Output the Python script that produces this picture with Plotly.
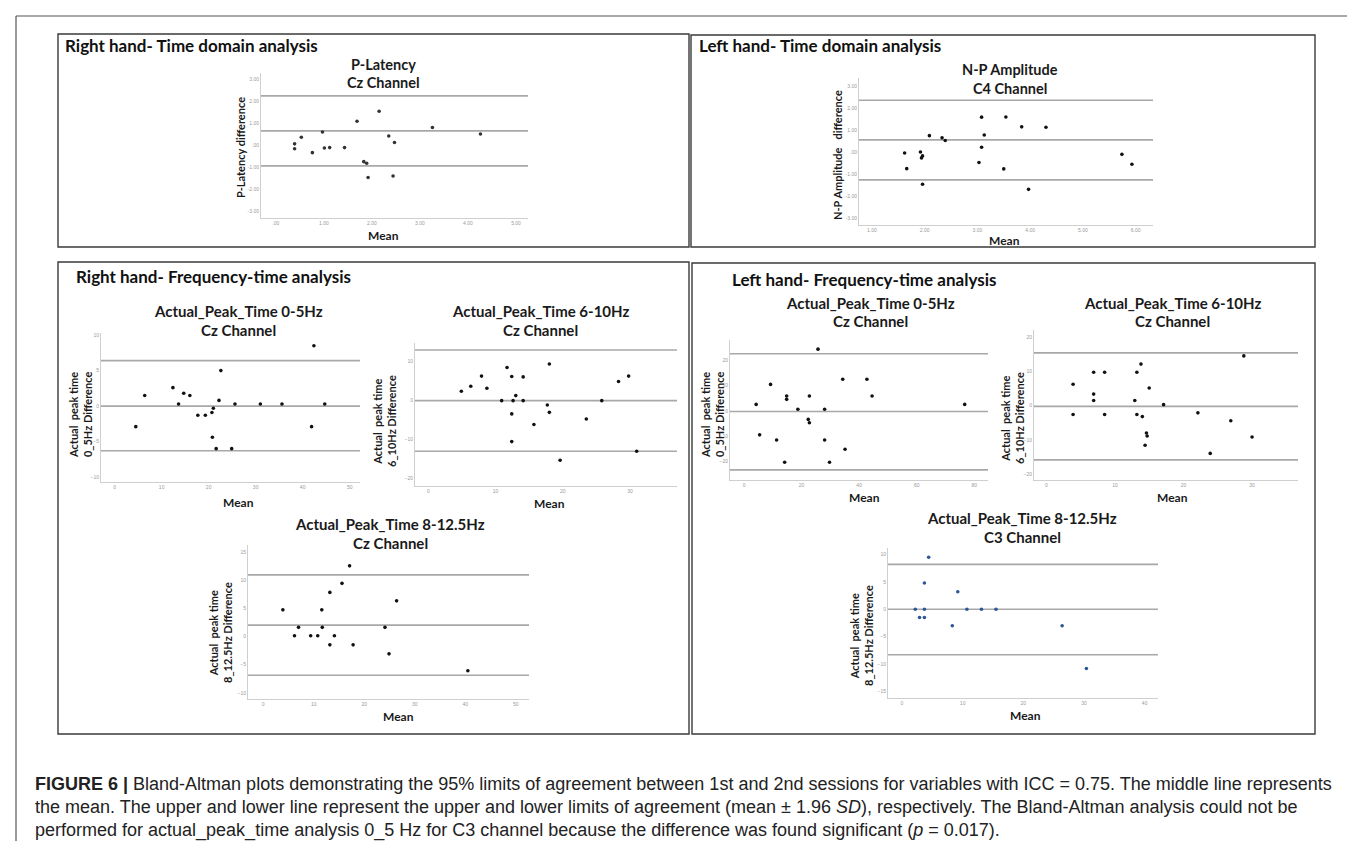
import plotly.graph_objects as go

W, H = 1355, 841

# ---------------- data ----------------
# Right hand - time domain: P-Latency, Cz
rh_plat_mean = [0.39, 0.39, 0.53, 0.76, 0.97, 1.01, 1.12, 1.43, 1.69, 1.83, 1.89, 1.92, 2.15, 2.35, 2.44, 2.47, 3.26, 4.26]
rh_plat_diff = [0.05, -0.17, 0.35, -0.35, 0.59, -0.14, -0.12, -0.12, 1.08, -0.76, -0.83, -1.48, 1.53, 0.41, -1.41, 0.11, 0.79, 0.50]
rh_plat_loa = [2.23, 0.64, -0.95]

# Left hand - time domain: N-P Amplitude, C4
lh_npamp_mean = [1.62, 1.66, 1.92, 1.94, 1.96, 1.96, 2.09, 2.33, 2.39, 3.03, 3.08, 3.08, 3.13, 3.54, 3.50, 3.84, 3.97, 4.30, 5.74, 5.93]
lh_npamp_diff = [-0.05, -0.76, 0.00, -0.27, -0.18, -1.47, 0.74, 0.64, 0.52, -0.48, 1.58, 0.21, 0.77, 1.59, -0.77, 1.14, -1.70, 1.12, -0.11, -0.56]
lh_npamp_loa = [2.35, 0.55, -1.27]

# Right hand - frequency-time: 0-5Hz Cz
rh_05_mean = [4.5, 6.4, 12.4, 13.6, 14.7, 16.0, 17.7, 19.3, 20.7, 21.0, 20.8, 21.6, 22.2, 22.6, 24.9, 25.6, 31.0, 35.6, 41.9, 42.4, 44.7]
rh_05_diff = [-2.9, 1.5, 2.6, 0.3, 1.8, 1.5, -1.3, -1.3, -0.9, -0.3, -4.4, -6.0, 0.8, 5.0, -6.0, 0.3, 0.3, 0.3, -2.9, 8.5, 0.3]
rh_05_loa = [6.4, 0.0, -6.3]

# Right hand - frequency-time: 6-10Hz Cz
rh_610_mean = [4.9, 6.3, 7.9, 8.7, 10.9, 11.7, 12.4, 12.4, 12.4, 12.6, 13.0, 14.1, 14.1, 15.7, 17.7, 18.0, 18.0, 19.6, 23.5, 25.8, 28.3, 29.8, 31.0]
rh_610_diff = [2.4, 3.7, 6.3, 3.2, 0.0, 8.5, 6.2, -3.4, -10.5, 0.0, 1.3, 6.1, 0.0, -6.1, -1.1, 9.4, -3.0, -15.3, -4.7, 0.0, 4.9, 6.3, -13.0]
rh_610_loa = [13.0, 0.0, -13.0]

# Right hand - frequency-time: 8-12.5Hz Cz
rh_812_mean = [3.9, 6.2, 7.0, 9.4, 10.8, 11.6, 11.7, 13.2, 13.2, 14.1, 15.6, 17.1, 17.8, 24.1, 24.9, 26.4, 40.5]
rh_812_diff = [4.7, 0.1, 1.6, 0.1, 0.1, 4.7, 1.6, 7.8, -1.5, 0.1, 9.4, 12.5, -1.5, 1.6, -3.1, 6.3, -6.1]
rh_812_loa = [10.9, 2.0, -6.9]

# Left hand - frequency-time: 0-5Hz Cz
lh_05_mean = [4.2, 5.4, 9.2, 11.3, 14.1, 14.8, 14.8, 18.7, 22.3, 22.7, 22.7, 25.7, 28.0, 28.0, 29.7, 34.3, 35.1, 42.7, 44.5, 76.7]
lh_05_diff = [2.6, -9.4, 10.5, -11.4, -20.2, 5.9, 4.6, 0.7, -3.3, -4.6, 5.9, 24.4, 0.7, -11.4, -20.2, 12.5, -15.1, 12.5, 5.9, 2.6]
lh_05_loa = [22.6, -0.2, -23.2]

# Left hand - frequency-time: 6-10Hz Cz
lh_610_mean = [3.9, 3.9, 6.9, 6.9, 6.9, 8.5, 8.5, 13.2, 12.9, 13.2, 13.8, 14.0, 14.6, 14.7, 14.4, 15.0, 17.1, 22.1, 23.9, 26.9, 28.8, 30.0]
lh_610_diff = [6.3, -2.6, 9.8, 3.4, 1.5, 9.8, -2.6, 9.8, 1.5, -2.6, 12.2, -3.2, -8.0, -8.9, -11.6, 5.2, 0.3, -2.1, -14.0, -4.4, 14.6, -9.2]
lh_610_loa = [15.5, -0.2, -15.9]

# Left hand - frequency-time: 8-12.5Hz C3
lh_812_mean = [2.2, 2.9, 3.7, 3.7, 3.7, 4.4, 8.3, 9.2, 10.7, 13.1, 15.5, 26.4, 30.4]
lh_812_diff = [0.0, -1.5, -1.5, 0.0, 4.8, 9.5, -3.0, 3.2, 0.0, 0.0, 0.0, -3.0, -10.8]
lh_812_loa = [8.2, 0.0, -8.3]

# tick values / labels
tick_time_y = [-3, -2, -1, 0, 1, 2, 3]
tick_time_y_lab = ["-3.00", "-2.00", "-1.00", ".00", "1.00", "2.00", "3.00"]
tick_plat_x = [0, 1, 2, 3, 4, 5]
tick_plat_x_lab = [".00", "1.00", "2.00", "3.00", "4.00", "5.00"]
tick_npamp_x = [1, 2, 3, 4, 5, 6]
tick_npamp_x_lab = ["1.00", "2.00", "3.00", "4.00", "5.00", "6.00"]
tick_x_0_50 = [0, 10, 20, 30, 40, 50]
tick_x_0_30 = [0, 10, 20, 30]
tick_x_0_40 = [0, 10, 20, 30, 40]
tick_x_0_80 = [0, 20, 40, 60, 80]
tick_y_rh05 = [-10, -5, 0, 5, 10]
tick_y_rh610 = [-20, -10, 0, 10]
tick_y_rh812 = [-10, -5, 0, 5, 10, 15]
tick_y_lh05 = [-20, -10, 0, 10, 20]
tick_y_lh610 = [-20, -10, 0, 10, 20]
tick_y_lh812 = [-15, -10, -5, 0, 5, 10]

section_titles = ["Right hand- Time domain analysis", "Left hand- Time domain analysis",
                  "Right hand- Frequency-time analysis", "Left hand- Frequency-time analysis"]

caption_lines = [
    "<b>FIGURE 6 |</b> Bland-Altman plots demonstrating the 95% limits of agreement between 1st and 2nd sessions for variables with ICC = 0.75. The middle line represents",
    "the mean. The upper and lower line represent the upper and lower limits of agreement (mean ± 1.96 <i>SD</i>), respectively. The Bland-Altman analysis could not be",
    "performed for actual_peak_time analysis 0_5 Hz for C3 channel because the difference was found significant (<i>p</i> = 0.017).",
]

# ---------------- layout helpers ----------------
def fx(p):
    return p / W

def fy(p):
    return 1 - p / H

TITLE_FONT = "Lato, Carlito, Open Sans, sans-serif"

fig = go.Figure()
shapes = []
annots = []
layout_axes = {}

plots = [
    dict(x=rh_plat_mean, y=rh_plat_diff, loa=rh_plat_loa, color="#333",
         box=(253, 65, 520, 210), xr=[-0.31, 5.25], yr=[-3.32, 3.27],
         xt=tick_plat_x, xtl=tick_plat_x_lab, yt=tick_time_y, ytl=tick_time_y_lab,
         title=["P-Latency", "Cz Channel"], tpos=(375, 56, 75), tsize=14.5,
         ylab="P-Latency difference", ylpos=(232, 140), mpos=(375, 227)),
    dict(x=lh_npamp_mean, y=lh_npamp_diff, loa=lh_npamp_loa, color="#111",
         box=(851, 70, 1145, 217), xr=[0.755, 6.33], yr=[-3.32, 3.36],
         xt=tick_npamp_x, xtl=tick_npamp_x_lab, yt=tick_time_y, ytl=tick_time_y_lab,
         title=["N-P Amplitude", "C4 Channel"], tpos=(1002, 62, 81), tsize=14.5,
         ylab="N-P Amplitude\u00a0\u00a0\u00a0difference", ylpos=(830, 147), mpos=(996, 232)),
    dict(x=rh_05_mean, y=rh_05_diff, loa=rh_05_loa, color="#111",
         box=(93, 325, 352, 474), xr=[-2.9, 52.2], yr=[-10.7, 10.3],
         xt=tick_x_0_50, xtl=None, yt=tick_y_rh05, ytl=None,
         title=["Actual_Peak_Time 0-5Hz", "Cz Channel"], tpos=(230, 303, 322), tsize=15,
         ylab="Actual  peak time<br>0_5Hz Difference", ylpos=(72, 407), mpos=(230, 494)),
    dict(x=rh_610_mean, y=rh_610_diff, loa=rh_610_loa, color="#111",
         box=(407, 335, 669, 478), xr=[-2.0, 37.0], yr=[-21.9, 14.8],
         xt=tick_x_0_30, xtl=None, yt=tick_y_rh610, ytl=None,
         title=["Actual_Peak_Time 6-10Hz", "Cz Channel"], tpos=(532, 303, 322), tsize=15,
         ylab="Actual  peak time<br>6_10Hz Difference", ylpos=(377, 413), mpos=(541, 495)),
    dict(x=rh_812_mean, y=rh_812_diff, loa=rh_812_loa, color="#111",
         box=(240, 537, 521, 691), xr=[-3.0, 52.6], yr=[-11.1, 16.2],
         xt=tick_x_0_50, xtl=None, yt=tick_y_rh812, ytl=None,
         title=["Actual_Peak_Time 8-12.5Hz", "Cz Channel"], tpos=(382, 516, 535), tsize=15,
         ylab="Actual  peak time<br>8_12.5Hz Difference", ylpos=(212, 625), mpos=(390, 708)),
    dict(x=lh_05_mean, y=lh_05_diff, loa=lh_05_loa, color="#111",
         box=(722, 332, 980, 472), xr=[-4.9, 84.8], yr=[-27.2, 28.0],
         xt=tick_x_0_80, xtl=None, yt=tick_y_lh05, ytl=None,
         title=["Actual_Peak_Time 0-5Hz", "Cz Channel"], tpos=(862, 295, 313), tsize=15,
         ylab="Actual  peak time<br>0_5Hz Difference", ylpos=(704, 407), mpos=(856, 489)),
    dict(x=lh_610_mean, y=lh_610_diff, loa=lh_610_loa, color="#111",
         box=(1026, 322, 1290, 472), xr=[-1.8, 36.7], yr=[-21.8, 22.2],
         xt=tick_x_0_30, xtl=None, yt=tick_y_lh610, ytl=None,
         title=["Actual_Peak_Time 6-10Hz", "Cz Channel"], tpos=(1164, 295, 313), tsize=15,
         ylab="Actual  peak time<br>6_10Hz Difference", ylpos=(1004, 410), mpos=(1164, 489)),
    dict(x=lh_812_mean, y=lh_812_diff, loa=lh_812_loa, color="#2b5797",
         box=(880, 540, 1150, 690), xr=[-2.3, 42.2], yr=[-16.2, 11.2],
         xt=tick_x_0_40, xtl=None, yt=tick_y_lh812, ytl=None,
         title=["Actual_Peak_Time 8-12.5Hz", "C3 Channel"], tpos=(1014, 510, 529), tsize=15,
         ylab="Actual  peak time<br>8_12.5Hz Difference", ylpos=(853, 628), mpos=(1017, 707)),
]

for i, p in enumerate(plots, start=1):
    sfx = "" if i == 1 else str(i)
    x0, y0, x1, y1 = p["box"]
    fig.add_trace(go.Scatter(
        x=p["x"], y=p["y"], mode="markers", xaxis="x" + sfx, yaxis="y" + sfx,
        marker=dict(size=3.6, color=p["color"], line=dict(width=0)),
        hoverinfo="skip", showlegend=False))
    common = dict(showgrid=False, zeroline=False, showline=True, linecolor="#cfcfcf",
                  linewidth=1, ticks="", tickfont=dict(size=5, color="#9a9a9a", family="Liberation Sans"),
                  fixedrange=True, ticklabelstandoff=0)
    xa = dict(common, domain=[fx(x0), fx(x1)], range=p["xr"], anchor="y" + sfx,
              tickmode="array", tickvals=p["xt"])
    if p["xtl"] is not None:
        xa["ticktext"] = p["xtl"]
    ya = dict(common, domain=[fy(y1), fy(y0)], range=p["yr"], anchor="x" + sfx,
              tickmode="array", tickvals=p["yt"])
    if p["ytl"] is not None:
        ya["ticktext"] = p["ytl"]
    layout_axes["xaxis" + sfx] = xa
    layout_axes["yaxis" + sfx] = ya
    for v in p["loa"]:
        shapes.append(dict(type="line", xref="x" + sfx + " domain", yref="y" + sfx,
                           x0=0, x1=1, y0=v, y1=v, line=dict(color="#a8a8a8", width=1.6),
                           layer="below"))
    tx, ty1, ty2 = p["tpos"]
    for txt, ty in zip(p["title"], (ty1, ty2)):
        annots.append(dict(text="<b>" + txt + "</b>", x=fx(tx), y=fy(ty), xref="paper", yref="paper",
                           xanchor="center", yanchor="middle", showarrow=False,
                           font=dict(family=TITLE_FONT, size=p["tsize"], color="#1a1a1a")))
    lx, ly = p["ylpos"]
    annots.append(dict(text="<b>" + p["ylab"] + "</b>", x=fx(lx), y=fy(ly), xref="paper", yref="paper",
                       xanchor="center", yanchor="middle", showarrow=False, textangle=-90,
                       font=dict(family=TITLE_FONT, size=11, color="#1a1a1a")))
    mx, my = p["mpos"]
    annots.append(dict(text="<b>Mean</b>", x=fx(mx), y=fy(my), xref="paper", yref="paper",
                       xanchor="center", yanchor="middle", showarrow=False,
                       font=dict(family=TITLE_FONT, size=12, color="#1a1a1a")))

# panel boxes
panel_boxes = [(50, 26, 681, 239), (683, 27, 1307, 239), (50, 254, 681, 726), (684, 255, 1307, 726)]
for (a, b, c, d) in panel_boxes:
    shapes.append(dict(type="rect", xref="paper", yref="paper", x0=fx(a), x1=fx(c), y0=fy(d), y1=fy(b),
                       line=dict(color="#3a3a3a", width=1.4), fillcolor="rgba(0,0,0,0)", layer="below"))

# outer frame (top and left)
shapes.append(dict(type="line", xref="paper", yref="paper", x0=fx(8), x1=1, y0=fy(8), y1=fy(8),
                   line=dict(color="#555", width=1.2)))
shapes.append(dict(type="line", xref="paper", yref="paper", x0=fx(8), x1=fx(8), y0=0, y1=fy(8),
                   line=dict(color="#555", width=1.2)))

# section titles
sec_pos = [(55, 38), (689, 38), (66, 268), (722, 271)]
for t, (sx, sy) in zip(section_titles, sec_pos):
    annots.append(dict(text="<b>" + t + "</b>", x=fx(sx), y=fy(sy), xref="paper", yref="paper",
                       xanchor="left", yanchor="middle", showarrow=False,
                       font=dict(family=TITLE_FONT, size=17, color="#111")))

# caption
cap_y = [776, 799, 822]
for t, cy in zip(caption_lines, cap_y):
    annots.append(dict(text=t, x=fx(25), y=fy(cy), xref="paper", yref="paper",
                       xanchor="left", yanchor="middle", showarrow=False,
                       font=dict(family="Liberation Sans, Arial, sans-serif", size=18, color="#222")))

fig.update_layout(
    width=W, height=H, margin=dict(l=0, r=0, t=0, b=0),
    paper_bgcolor="white", plot_bgcolor="rgba(0,0,0,0)", showlegend=False,
    shapes=shapes, annotations=annots, **layout_axes)

fig.write_html("out.html")
